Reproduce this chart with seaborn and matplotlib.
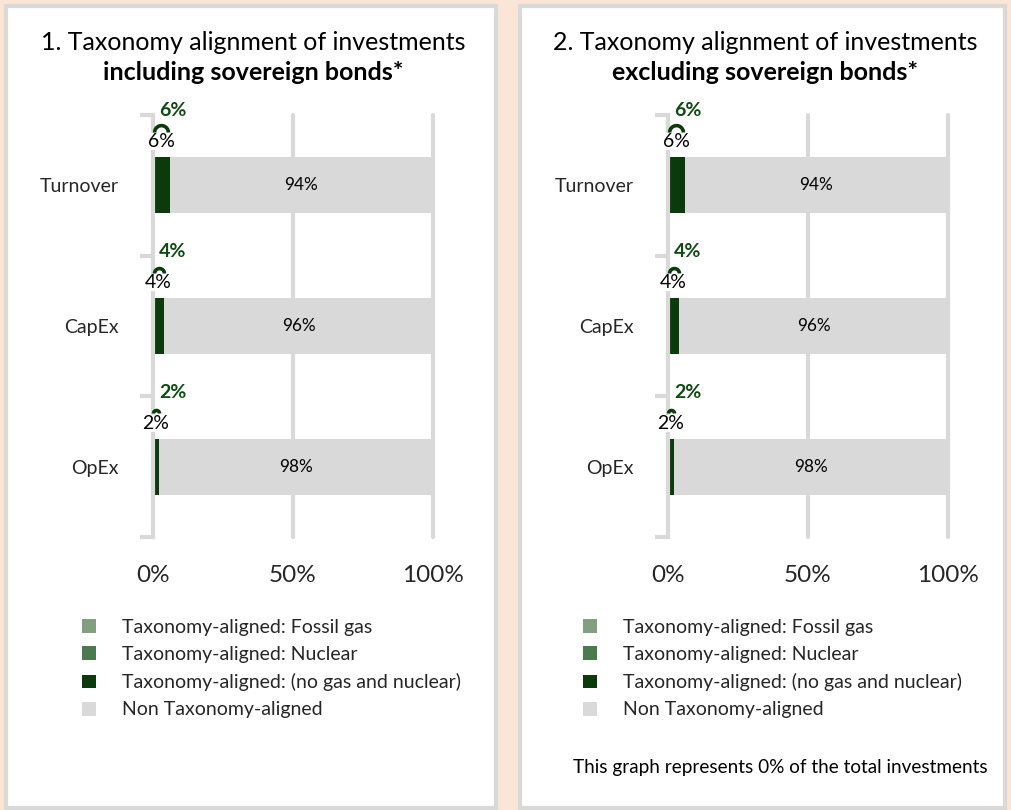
import numpy as np
import pandas as pd
import matplotlib
matplotlib.use("Agg")
import matplotlib.pyplot as plt
import seaborn as sns
from matplotlib.patches import Rectangle, Patch
from matplotlib.path import Path

# ---------------- data ----------------
categories = ["Turnover", "CapEx", "OpEx"]
# panel 1: including sovereign bonds
gas_1 = [0, 0, 0]
nuclear_1 = [0, 0, 0]
aligned_1 = [6, 4, 2]
non_aligned_1 = [94, 96, 98]
# panel 2: excluding sovereign bonds
gas_2 = [0, 0, 0]
nuclear_2 = [0, 0, 0]
aligned_2 = [6, 4, 2]
non_aligned_2 = [94, 96, 98]

x_tick_values = [0, 50, 100]
x_tick_labels = ["0%", "50%", "100%"]
legend_labels = ["Taxonomy-aligned: Fossil gas",
                 "Taxonomy-aligned: Nuclear",
                 "Taxonomy-aligned: (no gas and nuclear)",
                 "Non Taxonomy-aligned"]
title_lines = [("1. Taxonomy alignment of investments", "including sovereign bonds*"),
               ("2. Taxonomy alignment of investments", "excluding sovereign bonds*")]
note_text = "This graph represents 0% of the total investments"

# ---------------- style ----------------
sns.set_theme(style="white")
plt.rcParams["font.family"] = ["Lato", "DejaVu Sans"]

BG = "#FBE5D6"
GRID = "#D9D9D9"
C_GAS = "#82A07F"
C_NUC = "#4C7A4F"
C_ALN = "#0B3A0B"
C_NON = "#D9D9D9"
C_LBL = "#0E4A12"

W, H = 1011, 810
fig = plt.figure(figsize=(W / 100, H / 100), dpi=100)
fig.patch.set_facecolor(BG)

def fx(px):
    return px / W

def fy(py):
    return 1 - py / H

# panels
for (x0, x1) in [(6, 496), (520, 1005)]:
    fig.patches.append(Rectangle((fx(x0), fy(808)), fx(x1 - x0), (808 - 6) / H,
                                 transform=fig.transFigure, facecolor="white",
                                 edgecolor=GRID, linewidth=3, zorder=-10))

# small leader-arc marker (upper semicircle)
_t = np.linspace(np.pi, 0, 25)
ARC = Path(np.column_stack([np.cos(_t), np.sin(_t)]))

def draw_panel(ax, gas, nuc, aln, non):
    df = pd.DataFrame({"cat": categories, "gas": gas, "nuc": nuc, "aln": aln, "non": non})
    df["c_gas"] = df["gas"]
    df["c_nuc"] = df["gas"] + df["nuc"]
    df["c_aln"] = df["c_nuc"] + df["aln"]
    df["c_non"] = df["c_aln"] + df["non"]
    for col, color in [("c_non", C_NON), ("c_aln", C_ALN), ("c_nuc", C_NUC), ("c_gas", C_GAS)]:
        sns.barplot(data=df, x=col, y="cat", color=color, width=0.4, ax=ax,
                    orient="h", saturation=1, linewidth=0, errorbar=None, zorder=3)
    for i, row in df.iterrows():
        tot = row["c_aln"]
        ax.text(2.2, i - 0.53, f"{tot}%", color=C_LBL, fontsize=14,
                fontweight="bold", ha="left", va="center", zorder=7)
        ax.plot([tot / 2], [i - 0.38], marker=ARC, markersize=1.5 + tot * 1.4,
                markerfacecolor="none", markeredgecolor=C_ALN, markeredgewidth=2.6,
                linestyle="none", clip_on=False, zorder=5)
        ax.text(tot / 2, i - 0.31, f"{row['aln']}%", color="black", fontsize=14,
                ha="center", va="center", zorder=6,
                bbox=dict(boxstyle="square,pad=0.0", facecolor="white", edgecolor="none"))
        ax.text(tot + row["non"] / 2, i, f"{row['non']}%", color="black", fontsize=12.3,
                ha="center", va="center", zorder=5)
    ax.set_xlim(0, 100)
    ax.set_ylim(2.5, -0.5)
    ax.set_xlabel("")
    ax.set_ylabel("")
    ax.set_facecolor("none")
    for s in ["top", "right", "bottom"]:
        ax.spines[s].set_visible(False)
    ax.spines["left"].set_color(GRID)
    ax.spines["left"].set_linewidth(3)
    ax.spines["left"].set_zorder(4)
    for xv in x_tick_values[1:]:
        ax.axvline(xv, color=GRID, lw=3, clip_on=False, zorder=1)
    ax.set_xticks(x_tick_values, x_tick_labels)
    ax.tick_params(axis="x", length=0, pad=20, labelsize=17.5)
    ax.set_yticks(range(len(categories)), categories)
    ax.set_yticks([-0.5, 0.5, 1.5, 2.5], minor=True)
    ax.tick_params(axis="y", which="major", length=0, pad=25, labelsize=14)
    ax.tick_params(axis="y", which="minor", length=9.5, width=3, color=GRID, left=True)

axL = fig.add_axes([fx(153), fy(537), fx(280), (537 - 115) / H])
axR = fig.add_axes([fx(668), fy(537), fx(280), (537 - 115) / H])
draw_panel(axL, gas_1, nuclear_1, aligned_1, non_aligned_1)
draw_panel(axR, gas_2, nuclear_2, aligned_2, non_aligned_2)

# titles
for cx, (l1, l2) in zip([253, 765], title_lines):
    fig.text(fx(cx), fy(43), l1, ha="center", va="center", fontsize=18, color="black")
    fig.text(fx(cx), fy(73), l2, ha="center", va="center", fontsize=18,
             fontweight="bold", color="black")

# legends
handles = [Patch(facecolor=c, edgecolor="none") for c in [C_GAS, C_NUC, C_ALN, C_NON]]
for lx in [82, 583]:
    fig.legend(handles, legend_labels, loc="upper left",
               bbox_to_anchor=(fx(lx), fy(619)), frameon=False, fontsize=14,
               handlelength=0.72, handleheight=0.72, handletextpad=1.35,
               labelspacing=0.52, borderpad=0, borderaxespad=0)

fig.text(fx(780), fy(767), note_text, ha="center", va="center", fontsize=13.6, color="black")

fig.savefig("out.png", dpi=100, facecolor=BG)
